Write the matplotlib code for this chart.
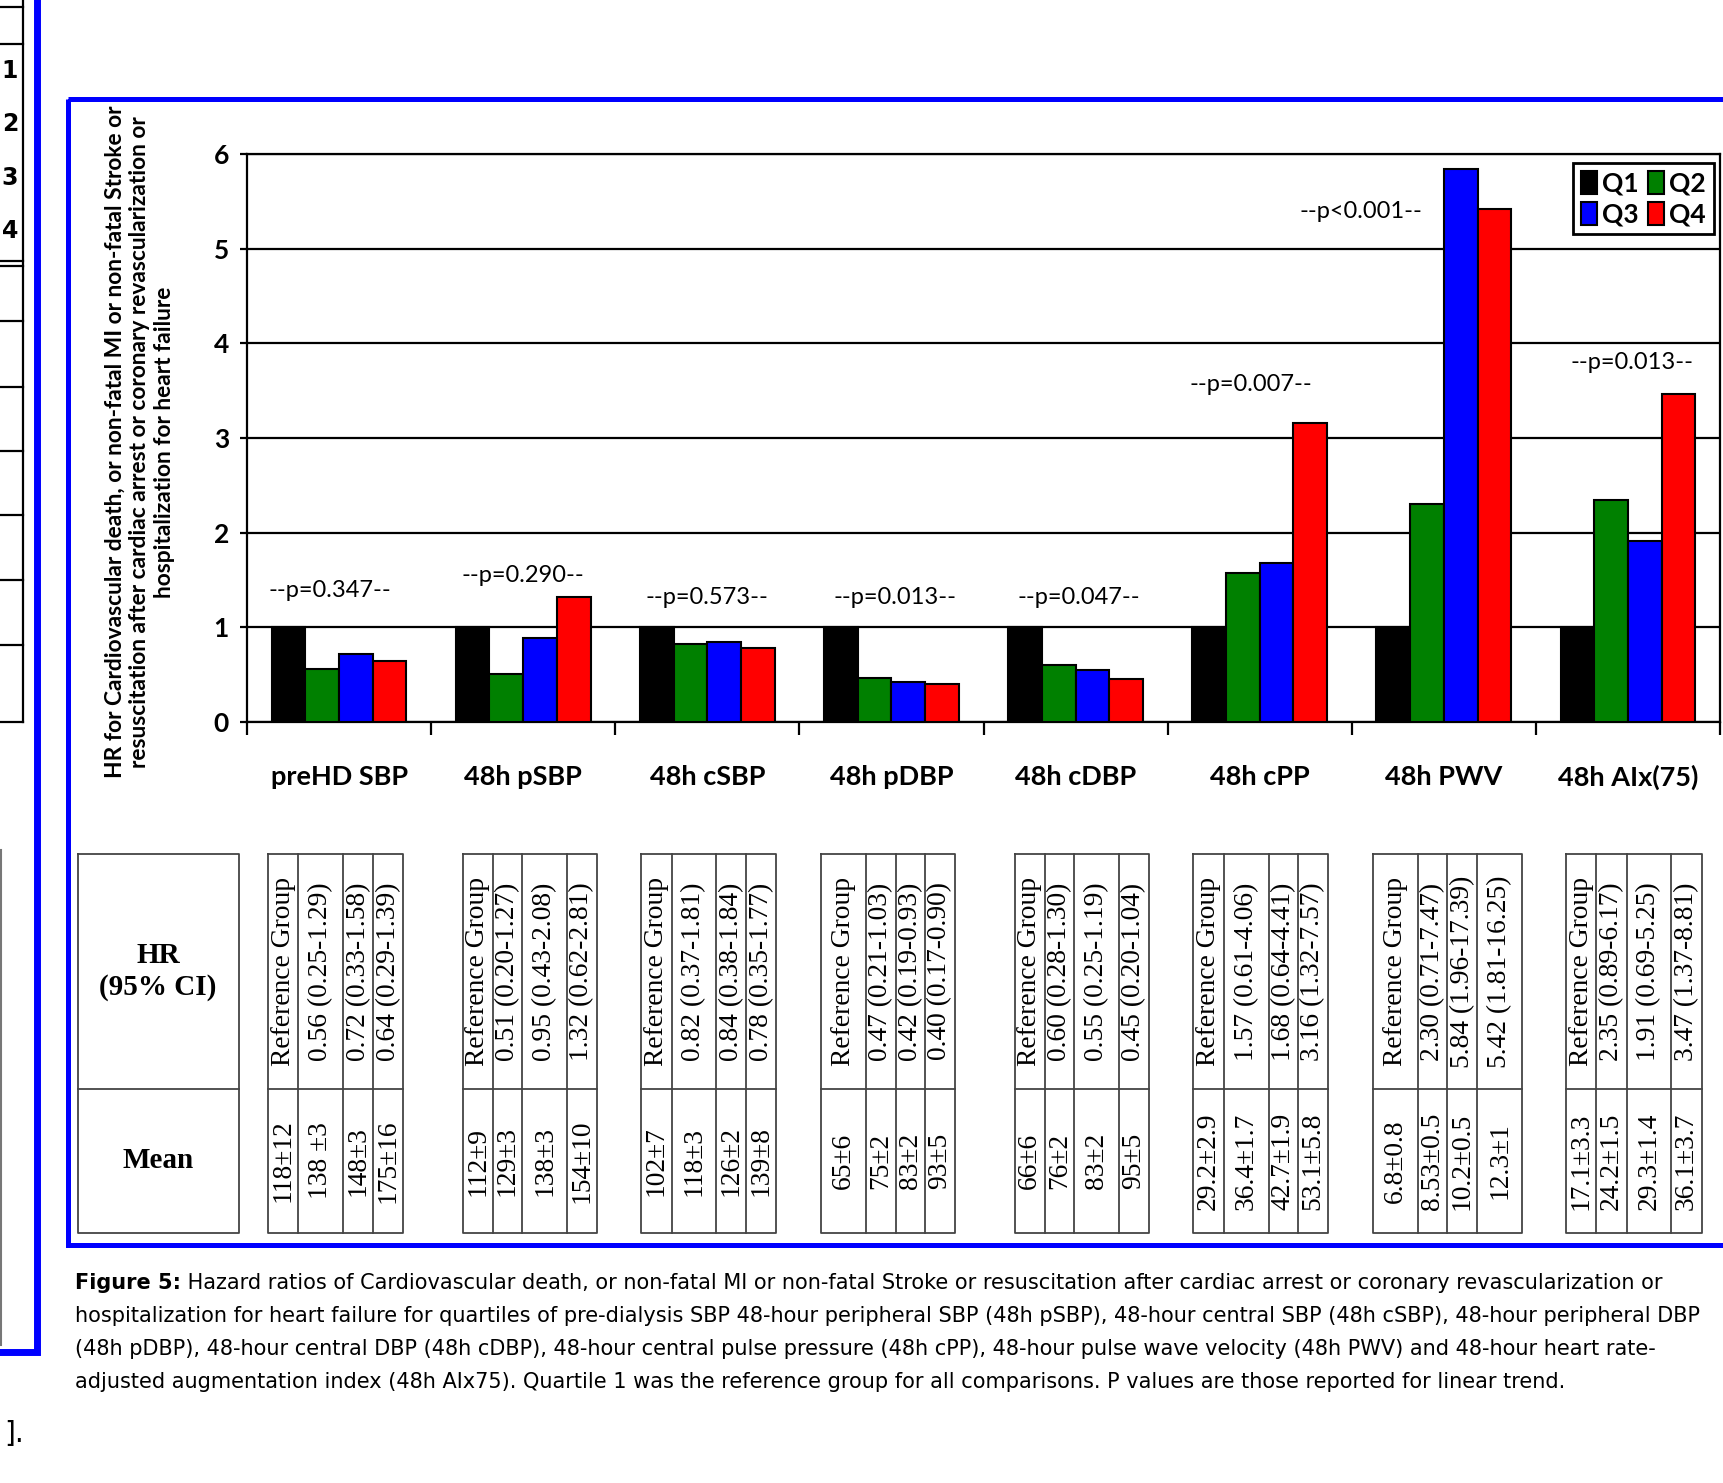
import numpy as np
import matplotlib
matplotlib.use("Agg")
import matplotlib.pyplot as plt
from matplotlib.patches import Patch, Rectangle
from matplotlib.lines import Line2D
from matplotlib.transforms import Affine2D

W, H = 1723, 1483

# ---- data ----
categories = ["preHD SBP", "48h pSBP", "48h cSBP", "48h pDBP", "48h cDBP", "48h cPP", "48h PWV", "48h AIx(75)"]
quartiles = ["Q1", "Q2", "Q3", "Q4"]
colors = ["#000000", "#008000", "#0000ff", "#ff0000"]

# bar heights as drawn in the chart
hr_q1 = [1, 1, 1, 1, 1, 1, 1, 1]
hr_q2 = [0.56, 0.51, 0.82, 0.47, 0.60, 1.57, 2.30, 2.35]
hr_q3 = [0.72, 0.89, 0.84, 0.42, 0.55, 1.68, 5.84, 1.91]
hr_q4 = [0.64, 1.32, 0.78, 0.40, 0.45, 3.16, 5.42, 3.47]
p_values = ["p=0.347", "p=0.290", "p=0.573", "p=0.013", "p=0.047", "p=0.007", "p<0.001", "p=0.013"]

# table below the chart
ci_q2 = ["0.56 (0.25-1.29)", "0.51 (0.20-1.27)", "0.82 (0.37-1.81)", "0.47 (0.21-1.03)",
         "0.60 (0.28-1.30)", "1.57 (0.61-4.06)", "2.30 (0.71-7.47)", "2.35 (0.89-6.17)"]
ci_q3 = ["0.72 (0.33-1.58)", "0.95 (0.43-2.08)", "0.84 (0.38-1.84)", "0.42 (0.19-0.93)",
         "0.55 (0.25-1.19)", "1.68 (0.64-4.41)", "5.84 (1.96-17.39)", "1.91 (0.69-5.25)"]
ci_q4 = ["0.64 (0.29-1.39)", "1.32 (0.62-2.81)", "0.78 (0.35-1.77)", "0.40 (0.17-0.90)",
         "0.45 (0.20-1.04)", "3.16 (1.32-7.57)", "5.42 (1.81-16.25)", "3.47 (1.37-8.81)"]
mean_q1 = ["118±12", "112±9", "102±7", "65±6", "66±6", "29.2±2.9", "6.8±0.8", "17.1±3.3"]
mean_q2 = ["138 ±3", "129±3", "118±3", "75±2", "76±2", "36.4±1.7", "8.53±0.5", "24.2±1.5"]
mean_q3 = ["148±3", "138±3", "126±2", "83±2", "83±2", "42.7±1.9", "10.2±0.5", "29.3±1.4"]
mean_q4 = ["175±16", "154±10", "139±8", "93±5", "95±5", "53.1±5.8", "12.3±1", "36.1±3.7"]

ylabel = ("HR for Cardiovascular death, or non-fatal MI or non-fatal Stroke or\n"
          "resuscitation after cardiac arrest or coronary revascularization or\n"
          "hospitalization for heart failure")

caption_bold = "Figure 5:"
caption_lines = [
    " Hazard ratios of Cardiovascular death, or non-fatal MI or non-fatal Stroke or resuscitation after cardiac arrest or coronary revascularization or",
    "hospitalization for heart failure for quartiles of pre-dialysis SBP 48-hour peripheral SBP (48h pSBP), 48-hour central SBP (48h cSBP), 48-hour peripheral DBP",
    "(48h pDBP), 48-hour central DBP (48h cDBP), 48-hour central pulse pressure (48h cPP), 48-hour pulse wave velocity (48h PWV) and 48-hour heart rate-",
    "adjusted augmentation index (48h AIx75). Quartile 1 was the reference group for all comparisons. P values are those reported for linear trend.",
]

# ---- layout (pixels in the 1723x1483 image) ----
p_dx = [-0.05, 0.0, 0.0, 0.02, 0.02, -0.05, -0.45, 0.02]
p_y = [1.39, 1.55, 1.32, 1.32, 1.32, 3.56, 5.39, 3.80]
sc = W / 1568
col_edges = [[244, 271.6, 312.4, 339.5, 367.2], [421, 448.2, 475.3, 516.1, 543.2],
             [583.5, 611.1, 651.9, 679.1, 706.2], [747, 787.7, 815.5, 841.7, 868.7],
             [923.4, 950.8, 977.6, 1018.1, 1045.5], [1086, 1113.9, 1154.4, 1181.3, 1208.1],
             [1249.7, 1290.2, 1317.1, 1344.4, 1384.9], [1425.5, 1452.3, 1480.2, 1520.7, 1548.6]]
tab_top, tab_mid, tab_bot = 854, 1089, 1233

fig = plt.figure(figsize=(W / 100, H / 100), dpi=100)
px = Affine2D().scale(1 / W, -1 / H).translate(0, 1) + fig.transFigure


def seg(xs, ys, **kw):
    fig.add_artist(Line2D(xs, ys, transform=px, **kw))


# page fragments on the left
seg([23, 23], [0, 722], color="black", lw=1.6)
for y in [7, 44, 261, 266, 321, 387, 451, 515, 580, 645, 722]:
    seg([0, 23], [y, y], color="black", lw=1.6)
for i, y in enumerate([71, 124, 178, 231]):
    fig.text(18 / W, 1 - y / H, str(i + 1), ha="right", va="center", fontsize=17,
             fontweight="bold", family="DejaVu Sans")
seg([1, 1], [850, 1345], color="#777777", lw=1.5)
seg([37, 37, -10], [-10, 1352, 1352], color="#0000ff", lw=5, solid_joinstyle="miter")
fig.text(24 / W, 1 - 1434 / H, "].", ha="right", va="center", fontsize=20, family="DejaVu Sans")

# inner blue frame
fig.add_artist(Rectangle((68, 99), 1723, 1146, transform=px, fill=False,
                         edgecolor="#0000ff", lw=3.6, joinstyle="miter"))

# ---- chart ----
ax = fig.add_axes([247 / W, 1 - 722 / H, (1720 - 247) / W, (722 - 154) / H])
x = np.arange(len(categories))
bw = 0.183
for i, vals in enumerate([hr_q1, hr_q2, hr_q3, hr_q4]):
    ax.bar(x + (i - 1.5) * bw, vals, bw, color=colors[i], edgecolor="black", linewidth=1.5, zorder=3)

ax.set_xlim(-0.5, len(categories) - 0.5)
ax.set_ylim(0, 6)
ax.set_yticks(range(7))
ax.yaxis.grid(True, color="black", linewidth=1.6)
ax.set_axisbelow(True)
for s in ax.spines.values():
    s.set_linewidth(1.6)
ax.set_xticks(np.arange(-0.5, len(categories)), labels=[])
ax.set_xticks(x, labels=categories, minor=True)
ax.tick_params(axis="x", which="major", length=9, width=1.6, direction="out")
ax.tick_params(axis="x", which="minor", length=0, pad=31)
ax.tick_params(axis="y", length=5, width=1.6, pad=8)
for lab in ax.get_xticklabels(minor=True):
    lab.set_fontfamily("Lato")
    lab.set_fontweight("bold")
    lab.set_fontsize(19.5)
for lab in ax.get_yticklabels():
    lab.set_fontfamily("Lato")
    lab.set_fontweight("bold")
    lab.set_fontsize(19)

for i, p in enumerate(p_values):
    ax.text(x[i] + p_dx[i], p_y[i], "--" + p + "--", ha="center", va="center",
            fontsize=17, family="Lato", zorder=4)

handles = [Patch(facecolor=c, edgecolor="black", linewidth=1.5) for c in colors]
order = [0, 2, 1, 3]
leg = ax.legend([handles[i] for i in order], [quartiles[i] for i in order], ncol=2,
                loc="upper right", bbox_to_anchor=(1714 / W, 1 - 163 / H),
                bbox_transform=fig.transFigure,
                prop=dict(family="Lato", weight="bold", size=19),
                handlelength=0.6, handleheight=0.95, handletextpad=0.2,
                columnspacing=0.35, labelspacing=0.25, borderpad=0.3, borderaxespad=0,
                fancybox=False, framealpha=1, edgecolor="black")
leg.get_frame().set_linewidth(2)

fig.text(140 / W, 1 - 442 / H, ylabel, rotation=90, ha="center", va="center",
         multialignment="center", fontsize=16.4, fontweight="bold", family="Lato",
         linespacing=1.2)

# ---- table ----
tcol = "#444444"
seg([77.5, 238.8, 238.8, 77.5, 77.5], [tab_top, tab_top, tab_bot, tab_bot, tab_top], color=tcol, lw=1.3)
seg([77.5, 238.8], [tab_mid, tab_mid], color=tcol, lw=1.3)
fig.text(158 / W, 1 - (tab_top + tab_mid) / 2 / H, "HR\n(95% CI)", ha="center", va="center",
         fontsize=21, fontweight="bold", family="Liberation Serif", linespacing=1.25)
fig.text(158 / W, 1 - (tab_mid + tab_bot) / 2 / H, "Mean", ha="center", va="center",
         fontsize=21, fontweight="bold", family="Liberation Serif")

hr_rows = [["Reference Group"] * len(categories), ci_q2, ci_q3, ci_q4]
mean_rows = [mean_q1, mean_q2, mean_q3, mean_q4]
for g, edges in enumerate(col_edges):
    e = [v * sc for v in edges]
    seg([e[0], e[-1], e[-1], e[0], e[0]], [tab_top, tab_top, tab_bot, tab_bot, tab_top], color=tcol, lw=1.3)
    seg([e[0], e[-1]], [tab_mid, tab_mid], color=tcol, lw=1.3)
    for v in e[1:-1]:
        seg([v, v], [tab_top, tab_bot], color=tcol, lw=1.3)
    for q in range(4):
        cx = (e[q] + e[q + 1]) / 2
        fig.text(cx / W, 1 - (tab_top + tab_mid) / 2 / H, hr_rows[q][g], rotation=90,
                 ha="center", va="center", rotation_mode="anchor",
                 fontsize=19.8, family="Liberation Serif")
        fig.text(cx / W, 1 - (tab_mid + tab_bot) / 2 / H, mean_rows[q][g], rotation=90,
                 ha="center", va="center", rotation_mode="anchor",
                 fontsize=19.8, family="Liberation Serif")

# ---- caption ----
renderer = fig.canvas.get_renderer()
probe = fig.text(0, 0, caption_lines[1], fontsize=14, family="DejaVu Sans")
cap_size = 14 * 1637 / probe.get_window_extent(renderer).width
probe.remove()

x0 = 75
line_y = [1283, 1316, 1349, 1382]
tb = fig.text(x0 / W, 1 - line_y[0] / H, caption_bold, ha="left", va="center",
              fontsize=cap_size, fontweight="bold", family="DejaVu Sans")
wb = tb.get_window_extent(renderer).width
for k, line in enumerate(caption_lines):
    xs = x0 + wb if k == 0 else x0
    fig.text(xs / W, 1 - line_y[k] / H, line, ha="left", va="center",
             fontsize=cap_size, family="DejaVu Sans")

fig.savefig("out.png", dpi=100)
